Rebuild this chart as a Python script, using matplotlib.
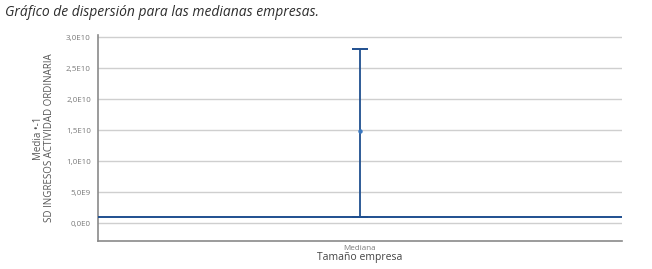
import matplotlib.pyplot as plt
import numpy as np

# data
categories = ['Mediana']
media = [1.48e10]
sd_upper = [1.34e10]
sd_lower = [1.38e10]
linea_base = 1.0e9
yticks = [0, 5e9, 1e10, 1.5e10, 2e10, 2.5e10, 3e10]
ytick_labels = ['0,0E0', '5,0E9', '1,0E10', '1,5E10', '2,0E10', '2,5E10', '3,0E10']

plt.rcParams['font.family'] = ['Open Sans', 'DejaVu Sans']

fig = plt.figure(figsize=(6.52, 2.69), dpi=100)
ax = fig.add_axes([0.150, 0.104, 0.804, 0.766])

azul = '#1f4f8f'
x = np.arange(len(categories))

ax.axhline(linea_base, color=azul, lw=1.4, zorder=3)
ax.errorbar(x, media, yerr=[sd_lower, sd_upper], fmt='o', ms=2.2,
            color='#3a78c0', ecolor=azul, elinewidth=1.3, capsize=6,
            capthick=1.4, zorder=4)

ax.set_xlim(-0.5, 0.5)
ax.set_ylim(-2.9e9, 3.04e10)
ax.set_yticks(yticks)
ax.set_yticklabels(ytick_labels)
ax.set_xticks(x)
ax.set_xticklabels(categories)

ax.grid(axis='y', color='#cfcfcf', lw=1.0)
ax.set_axisbelow(True)
for s in ['top', 'right']:
    ax.spines[s].set_visible(False)
ax.spines['left'].set_color('#8a8a8a')
ax.spines['bottom'].set_color('#8a8a8a')
ax.spines['left'].set_linewidth(1.2)
ax.spines['bottom'].set_linewidth(1.2)
ax.tick_params(axis='both', length=0, labelsize=5.8, colors='#7a7a7a', pad=5)
ax.tick_params(axis='x', pad=3)

ax.set_ylabel('Media •-1\nSD INGRESOS ACTIVIDAD ORDINARIA', fontsize=7,
              color='#555555', labelpad=8, linespacing=1.0)
ax.set_xlabel('Tamaño empresa', fontsize=7.5, color='#444444', labelpad=0)

fig.text(0.008, 0.955, 'Gráfico de dispersión para las medianas empresas.',
         fontsize=10, style='italic', color='#2e2e2e', va='center')

fig.savefig('out.png', dpi=100)
